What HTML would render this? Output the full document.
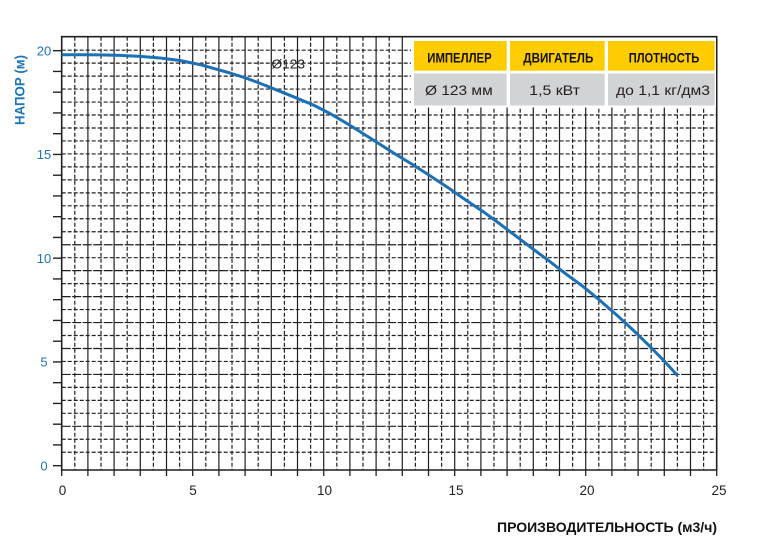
<!DOCTYPE html>
<html>
<head>
<meta charset="utf-8">
<style>
html,body{margin:0;padding:0;background:#fff;}
svg{display:block;}
text{font-family:"Liberation Sans", "Noto Sans CJK SC", sans-serif;}
</style>
</head>
<body>
<svg width="759" height="559" viewBox="0 0 759 559" xmlns="http://www.w3.org/2000/svg">
<rect width="759" height="559" fill="#fff"/>

<!-- vertical grid: solid at integer units -->
<path stroke="#231f20" stroke-width="1.2" fill="none" d="
M87.9 36.7V470 M114.1 36.7V470 M140.3 36.7V470 M166.5 36.7V470 M192.7 36.7V470
M218.9 36.7V470 M245.1 36.7V470 M271.3 36.7V470 M297.5 36.7V470 M323.7 36.7V470
M349.9 36.7V470 M376.1 36.7V470 M402.3 36.7V470 M428.5 36.7V470 M454.7 36.7V470
M480.9 36.7V470 M507.1 36.7V470 M533.3 36.7V470 M559.5 36.7V470 M585.7 36.7V470
M611.9 36.7V470 M638.1 36.7V470 M664.3 36.7V470 M690.5 36.7V470"/>
<!-- vertical grid: dashed at half units -->
<path stroke="#231f20" stroke-width="1.2" fill="none" stroke-dasharray="4 2" d="
M74.8 36.7V470 M101.0 36.7V470 M127.2 36.7V470 M153.4 36.7V470 M179.6 36.7V470
M205.8 36.7V470 M232.0 36.7V470 M258.2 36.7V470 M284.4 36.7V470 M310.6 36.7V470
M336.8 36.7V470 M363.0 36.7V470 M389.2 36.7V470 M415.4 36.7V470 M441.6 36.7V470
M467.8 36.7V470 M494.0 36.7V470 M520.2 36.7V470 M546.4 36.7V470 M572.6 36.7V470
M598.8 36.7V470 M625.0 36.7V470 M651.2 36.7V470 M677.4 36.7V470 M703.6 36.7V470"/>
<!-- horizontal grid dashed -->
<path stroke="#231f20" stroke-width="1.2" fill="none" stroke-dasharray="4 2" d="
M61.7 50.17H716.7 M61.7 63.14H716.7 M61.7 76.11H716.7 M61.7 89.08H716.7 M61.7 102.05H716.7
M61.7 115.02H716.7 M61.7 127.99H716.7 M61.7 140.96H716.7 M61.7 153.93H716.7 M61.7 166.9H716.7
M61.7 179.87H716.7 M61.7 192.84H716.7 M61.7 205.81H716.7 M61.7 218.78H716.7 M61.7 231.75H716.7
M61.7 257.69H716.7 M61.7 283.63H716.7 M61.7 309.57H716.7 M61.7 335.51H716.7
M61.7 361.45H716.7 M61.7 387.39H716.7 M61.7 400.36H716.7 M61.7 413.33H716.7
M61.7 439.27H716.7 M61.7 452.24H716.7"/>
<!-- horizontal grid solid-ish -->
<path stroke="#231f20" stroke-width="1.2" fill="none" stroke-dasharray="9 1.5" d="
M61.7 244.72H716.7 M61.7 270.66H716.7 M61.7 296.6H716.7 M61.7 322.54H716.7
M61.7 348.48H716.7 M61.7 374.42H716.7 M61.7 426.3H716.7"/>

<!-- frame -->
<path stroke="#231f20" stroke-width="1.6" fill="none" d="M61.7 36.7H716.7V470H61.7Z"/>

<!-- y ticks -->
<path stroke="#231f20" stroke-width="1.3" fill="none" d="
M53 465.7H61.7 M53 444.95H61.7 M53 424.2H61.7 M53 403.45H61.7 M53 382.7H61.7
M53 361.95H61.7 M53 341.2H61.7 M53 320.45H61.7 M53 299.7H61.7 M53 278.95H61.7
M53 258.2H61.7 M53 237.45H61.7 M53 216.7H61.7 M53 195.95H61.7 M53 175.2H61.7
M53 154.45H61.7 M53 133.7H61.7 M53 112.95H61.7 M53 92.2H61.7 M53 71.45H61.7 M53 50.7H61.7"/>

<!-- x ticks -->
<path stroke="#231f20" stroke-width="1.3" fill="none" d="
M61.7 470V476 M87.9 470V476 M114.1 470V476 M140.3 470V476 M166.5 470V476 M192.7 470V476
M218.9 470V476 M245.1 470V476 M271.3 470V476 M297.5 470V476 M323.7 470V476
M349.9 470V476 M376.1 470V476 M402.3 470V476 M428.5 470V476 M454.7 470V476
M480.9 470V476 M507.1 470V476 M533.3 470V476 M559.5 470V476 M585.7 470V476
M611.9 470V476 M638.1 470V476 M664.3 470V476 M690.5 470V476 M716.7 470V476"/>

<!-- y labels -->
<g fill="#1b75bb" font-size="13" text-anchor="middle">
<text x="44" y="55.3">20</text>
<text x="44" y="159.1">15</text>
<text x="44" y="262.8">10</text>
<text x="44" y="366.6">5</text>
<text x="44" y="470.4">0</text>
</g>

<!-- x labels -->
<g fill="#231f20" font-size="13.5" text-anchor="middle">
<text x="62.5" y="495">0</text>
<text x="193" y="495">5</text>
<text x="324.5" y="495">10</text>
<text x="456" y="495">15</text>
<text x="587" y="495">20</text>
<text x="719" y="495">25</text>
</g>

<!-- axis titles -->
<text transform="translate(24.5,90) rotate(-90)" text-anchor="middle" fill="#1b75bb" font-size="14" font-weight="bold" textLength="70" lengthAdjust="spacingAndGlyphs">НАПОР (м)</text>
<text x="497" y="532" fill="#111" font-size="13.5" font-weight="bold" textLength="220" lengthAdjust="spacingAndGlyphs">ПРОИЗВОДИТЕЛЬНОСТЬ (м3/ч)</text>

<!-- curve -->
<polyline fill="none" stroke="#1c70b6" stroke-width="3" stroke-linejoin="round" points="
61.7,54.8 80,54.8 100,54.9 120,55.4 140,56.4 160,58 180,60.5 200,64.6 213.3,68.3 230,73
246.7,78.3 263,84.5 280,91.3 296,97.8 313.3,105 330,113.5 346.7,123.3 363,133.5 380,144.3
396,154.5 413.3,165 430,175.8 446.7,186.7 465,199.5 483.3,211.7 500,224 516.7,236.7 533,249
550,261.7 566,274 583.3,286.7 600,300.5 616.7,315 633,330 650,346.5 664,360.8 677.7,375.8"/>

<text x="271.5" y="68.3" fill="#231f20" font-size="12.5" textLength="33.5" lengthAdjust="spacingAndGlyphs">Ø123</text>

<!-- table -->
<rect x="411" y="37.5" width="305" height="70" fill="#fff"/>
<rect x="414" y="41" width="92.7" height="29.7" fill="#ffcc00"/>
<rect x="510" y="41" width="94.7" height="29.7" fill="#ffcc00"/>
<rect x="608" y="41" width="106.7" height="29.7" fill="#ffcc00"/>
<rect x="414" y="73.5" width="92.7" height="32" fill="#d1d3d4"/>
<rect x="510" y="73.5" width="94.7" height="32" fill="#d1d3d4"/>
<rect x="608" y="73.5" width="106.7" height="32" fill="#d1d3d4"/>

<g fill="#111" font-size="14" font-weight="bold">
<text x="427.3" y="62.5" textLength="64.4" lengthAdjust="spacingAndGlyphs">ИМПЕЛЛЕР</text>
<text x="523.3" y="62.5" textLength="70" lengthAdjust="spacingAndGlyphs">ДВИГАТЕЛЬ</text>
<text x="628.7" y="62.5" textLength="70.6" lengthAdjust="spacingAndGlyphs">ПЛОТНОСТЬ</text>
</g>
<g fill="#231f20" font-size="14">
<text x="425" y="95" textLength="67.7" lengthAdjust="spacingAndGlyphs">Ø 123 мм</text>
<text x="529.3" y="95" textLength="50.7" lengthAdjust="spacingAndGlyphs">1,5 кВт</text>
<text x="616" y="95" textLength="94" lengthAdjust="spacingAndGlyphs">до 1,1 кг/дм3</text>
</g>
</svg>
</body>
</html>
